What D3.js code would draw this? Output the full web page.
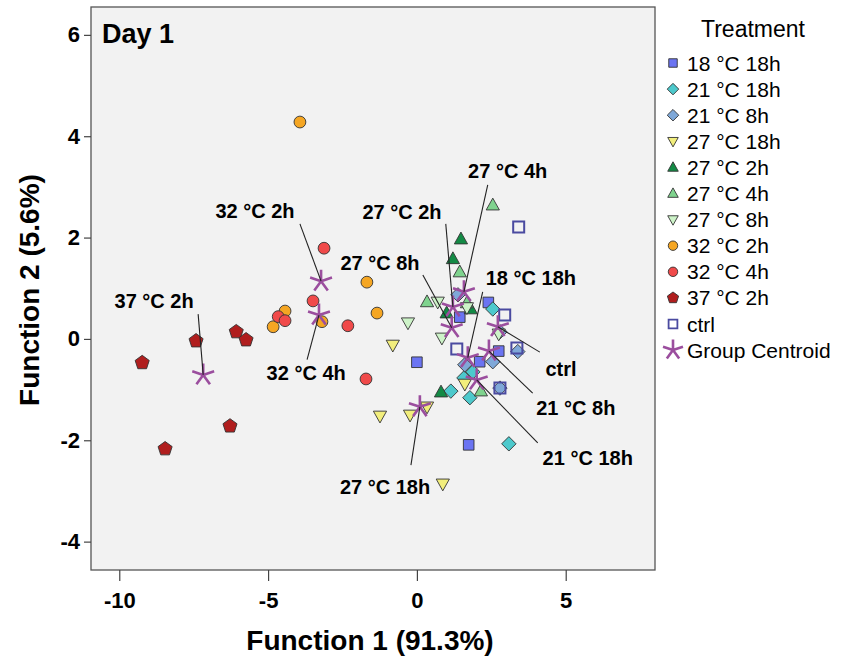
<!DOCTYPE html>
<html>
<head>
<meta charset="utf-8">
<script src="https://cdn.jsdelivr.net/npm/d3@7"></script>
<style>
  html, body { margin: 0; padding: 0; background: #ffffff; }
  svg text { font-family: "Liberation Sans", Arial, Helvetica, sans-serif; }
</style>
</head>
<body>
<svg id="chart" width="841" height="660"></svg>
<script>
// ---------------- DATA ----------------
const groups = ["18 °C 18h", "21 °C 18h", "21 °C 8h", "27 °C 18h", "27 °C 2h", "27 °C 4h", "27 °C 8h", "32 °C 2h", "32 °C 4h", "37 °C 2h", "ctrl"];

const g18_18h_x = [0.00, 1.44, 2.40, 2.11, 2.75, 1.74];
const g18_18h_y = [-0.46, 0.43, 0.72, -0.45, -0.24, -2.09];
const g21_18h_x = [2.55, 1.88, 1.14, 1.78, 3.09, 1.58];
const g21_18h_y = [0.59, -0.65, -1.03, -1.16, -2.07, -0.77];
const g21_8h_x = [3.39, 2.55, 2.79, 2.79, 1.38, 1.61];
const g21_8h_y = [-0.25, -0.45, -0.97, 0.14, 0.87, -0.51];
const g27_18h_x = [-0.81, -1.24, -0.23, 0.34, 0.87, 1.61];
const g27_18h_y = [-0.12, -1.52, -1.50, -1.34, -2.86, -0.89];
const g27_2h_x = [1.48, 1.21, 1.81, 1.00, 0.81];
const g27_2h_y = [1.97, 1.58, 0.59, 0.51, -1.05];
const g27_4h_x = [2.55, 1.44, 1.68, 0.34, 2.15];
const g27_4h_y = [2.64, 1.32, 0.71, 0.73, -1.03];
const g27_8h_x = [-0.30, 0.70, 0.84, 1.68, 2.75];
const g27_8h_y = [0.32, 0.73, 0.02, 0.62, 0.10];
const g32_2h_x = [-3.93, -1.68, -1.34, -4.43, -4.83, -3.19];
const g32_2h_y = [4.28, 1.12, 0.51, 0.55, 0.24, 0.34];
const g32_4h_x = [-3.49, -4.66, -4.43, -2.32, -1.71, -3.12];
const g32_4h_y = [0.75, 0.44, 0.36, 0.26, -0.79, 1.79];
const g37_2h_x = [-9.23, -7.42, -6.07, -5.74, -6.28, -8.46];
const g37_2h_y = [-0.47, -0.04, 0.14, -0.02, -1.72, -2.17];
const ctrl_x = [3.42, 2.95, 1.34, 3.36, 2.79];
const ctrl_y = [2.21, 0.47, -0.20, -0.18, -0.97];

const centroidX = [1.71, 2.01, 2.42, 0.10, 1.21, 1.58, 1.17, -3.22, -3.29, -7.18, 2.72];
const centroidY = [-0.37, -0.81, -0.24, -1.34, 0.63, 0.93, 0.22, 1.14, 0.47, -0.71, 0.24];

// centroid annotation: label centre and leader-line start, in data units
const labelX = [3.83, 5.74, 5.34, -1.07, -0.50, 3.05, -1.24, -5.44, -3.72, -8.83, 4.84];
const labelY = [1.20, -2.35, -1.36, -2.92, 2.50, 3.31, 1.50, 2.52, -0.67, 0.75, -0.59];
const leaderX = [2.21, 4.06, 3.89, -0.20, 0.97, 2.38, 0.20, -3.93, -3.69, -7.35, 4.13];
const leaderY = [0.93, -2.05, -1.07, -2.49, 2.27, 3.04, 1.26, 2.27, -0.41, 0.49, -0.26];

const xTicks = [-10, -5, 0, 5];
const yTicks = [-4, -2, 0, 2, 4, 6];

const seriesX = [g18_18h_x, g21_18h_x, g21_8h_x, g27_18h_x, g27_2h_x, g27_4h_x, g27_8h_x, g32_2h_x, g32_4h_x, g37_2h_x, ctrl_x];
const seriesY = [g18_18h_y, g21_18h_y, g21_8h_y, g27_18h_y, g27_2h_y, g27_4h_y, g27_8h_y, g32_2h_y, g32_4h_y, g37_2h_y, ctrl_y];

// ---------------- STYLE ----------------
const shapes = ["square", "diamond", "diamond", "down", "up", "up", "down", "circle", "circle", "pentagon", "open"];
const fills = ["#6B74F2", "#4DC9CC", "#7FA8D8", "#F2EE7C", "#138A45", "#7FD38E", "#CDF3C8", "#F5A623", "#F04A4A", "#B01E1E", "none"];
const centroidColor = "#9B4E9E";

function shapePath(shape, s) {
  s = s || 1;
  switch (shape) {
    case "square": { const h = 5.3 * s; return `M${-h},${-h}H${h}V${h}H${-h}Z`; }
    case "open": { const h = 5.5 * s; return `M${-h},${-h}H${h}V${h}H${-h}Z`; }
    case "diamond": { const h = 7.2 * s; return `M0,${-h}L${h},0L0,${h}L${-h},0Z`; }
    case "up": { const w = 6.6 * s, t = 7 * s, b = 4.8 * s; return `M0,${-t}L${w},${b}L${-w},${b}Z`; }
    case "down": { const w = 6.6 * s, t = 7 * s, b = 4.8 * s; return `M0,${t}L${w},${-b}L${-w},${-b}Z`; }
    case "circle": { const r = 5.9 * s; return `M${r},0A${r},${r} 0 1,1 ${-r},0A${r},${r} 0 1,1 ${r},0Z`; }
    case "pentagon": {
      const r = 7.4 * s;
      const pts = d3.range(5).map(k => { const a = (-90 + k * 72) * Math.PI / 180; return [r * Math.cos(a), r * Math.sin(a)]; });
      return "M" + pts.map(p => p.join(",")).join("L") + "Z";
    }
  }
}
function starPath(r) {
  return d3.range(5).map(k => { const a = (-90 + k * 72) * Math.PI / 180; return `M0,0L${r * Math.cos(a)},${r * Math.sin(a)}`; }).join("");
}

// ---------------- LAYOUT ----------------
const svg = d3.select("#chart");
const plotL = 91, plotR = 655, plotT = 7, plotB = 570;
const x = d3.scaleLinear().domain([-10.95, 8.0]).range([plotL, plotR]);
const y = d3.scaleLinear().domain([-4.56, 6.55]).range([plotB, plotT]);

svg.append("rect").attr("x", plotL).attr("y", plotT).attr("width", plotR - plotL).attr("height", plotB - plotT)
  .attr("fill", "#F2F2F2").attr("stroke", "#555").attr("stroke-width", 1.3);

// axes
const yAxis = svg.append("g").attr("transform", `translate(${plotL},0)`)
  .call(d3.axisLeft(y).tickValues(yTicks).tickSize(7).tickPadding(4).tickFormat(d3.format("d")));
const xAxis = svg.append("g").attr("transform", `translate(0,${plotB})`)
  .call(d3.axisBottom(x).tickValues(xTicks).tickSize(11).tickPadding(11).tickFormat(d3.format("d")));
[xAxis, yAxis].forEach(a => {
  a.select(".domain").remove();
  a.selectAll(".tick line").attr("stroke", "#444").attr("stroke-width", 1.2);
  a.selectAll(".tick text").attr("fill", "#000").style("font-size", "22px").style("font-weight", "bold")
    .style("font-family", '"Liberation Sans", Arial, sans-serif');
});
yAxis.selectAll(".tick text").text(d => d < 0 ? "-" + Math.abs(d) : d);
xAxis.selectAll(".tick text").text(d => d < 0 ? "-" + Math.abs(d) : d);

svg.append("text").attr("x", 370).attr("y", 650).attr("text-anchor", "middle")
  .style("font-size", "28px").style("font-weight", "bold").text("Function 1 (91.3%)");
svg.append("text").attr("transform", "translate(39,290) rotate(-90)").attr("text-anchor", "middle")
  .style("font-size", "28px").style("font-weight", "bold").text("Function 2 (5.6%)");

svg.append("text").attr("x", 102).attr("y", 43).style("font-size", "27px").style("font-weight", "bold").text("Day 1");

// points
const plot = svg.append("g");
groups.forEach((g, i) => {
  const pts = seriesX[i].map((vx, j) => ({ x: vx, y: seriesY[i][j] }));
  plot.selectAll(null).data(pts).enter().append("path")
    .attr("d", shapePath(shapes[i]))
    .attr("transform", d => `translate(${x(d.x)},${y(d.y)})`)
    .attr("fill", shapes[i] === "open" ? "none" : fills[i])
    .attr("stroke", shapes[i] === "open" ? "#4A4AA0" : "#333")
    .attr("stroke-width", shapes[i] === "open" ? 2 : 0.9);
});

// centroids
const cents = centroidX.map((cx, i) => ({ x: cx, y: centroidY[i], lx: labelX[i], ly: labelY[i], sx: leaderX[i], sy: leaderY[i], name: groups[i] }));
plot.selectAll(null).data(cents).enter().append("path")
  .attr("d", starPath(11.5))
  .attr("transform", d => `translate(${x(d.x)},${y(d.y)})`)
  .attr("fill", "none").attr("stroke", centroidColor).attr("stroke-width", 2.6);

plot.selectAll(null).data(cents).enter().append("line")
  .attr("x1", d => x(d.sx)).attr("y1", d => y(d.sy)).attr("x2", d => x(d.x)).attr("y2", d => y(d.y))
  .attr("stroke", "#222").attr("stroke-width", 1.1);

plot.selectAll(null).data(cents).enter().append("text")
  .attr("x", d => x(d.lx)).attr("y", d => y(d.ly)).attr("dy", "0.36em").attr("text-anchor", "middle")
  .style("font-size", "20px").style("font-weight", "bold").text(d => d.name);

// legend
const leg = svg.append("g");
leg.append("text").attr("x", 753).attr("y", 37).attr("text-anchor", "middle").style("font-size", "23px").text("Treatment");
const legItems = groups.concat(["Group Centroid"]);
legItems.forEach((name, i) => {
  const cy = 63 + i * 26.1;
  if (i < groups.length) {
    leg.append("path").attr("d", shapePath(shapes[i], 0.8)).attr("transform", `translate(673,${cy})`)
      .attr("fill", shapes[i] === "open" ? "none" : fills[i])
      .attr("stroke", shapes[i] === "open" ? "#4A4AA0" : "#333")
      .attr("stroke-width", shapes[i] === "open" ? 1.8 : 0.9);
  } else {
    leg.append("path").attr("d", starPath(10.5)).attr("transform", `translate(673,${cy})`)
      .attr("fill", "none").attr("stroke", centroidColor).attr("stroke-width", 2.6);
  }
  leg.append("text").attr("x", 687).attr("y", cy).attr("dy", "0.36em").style("font-size", "21px").text(name);
});
</script>
</body>
</html>
